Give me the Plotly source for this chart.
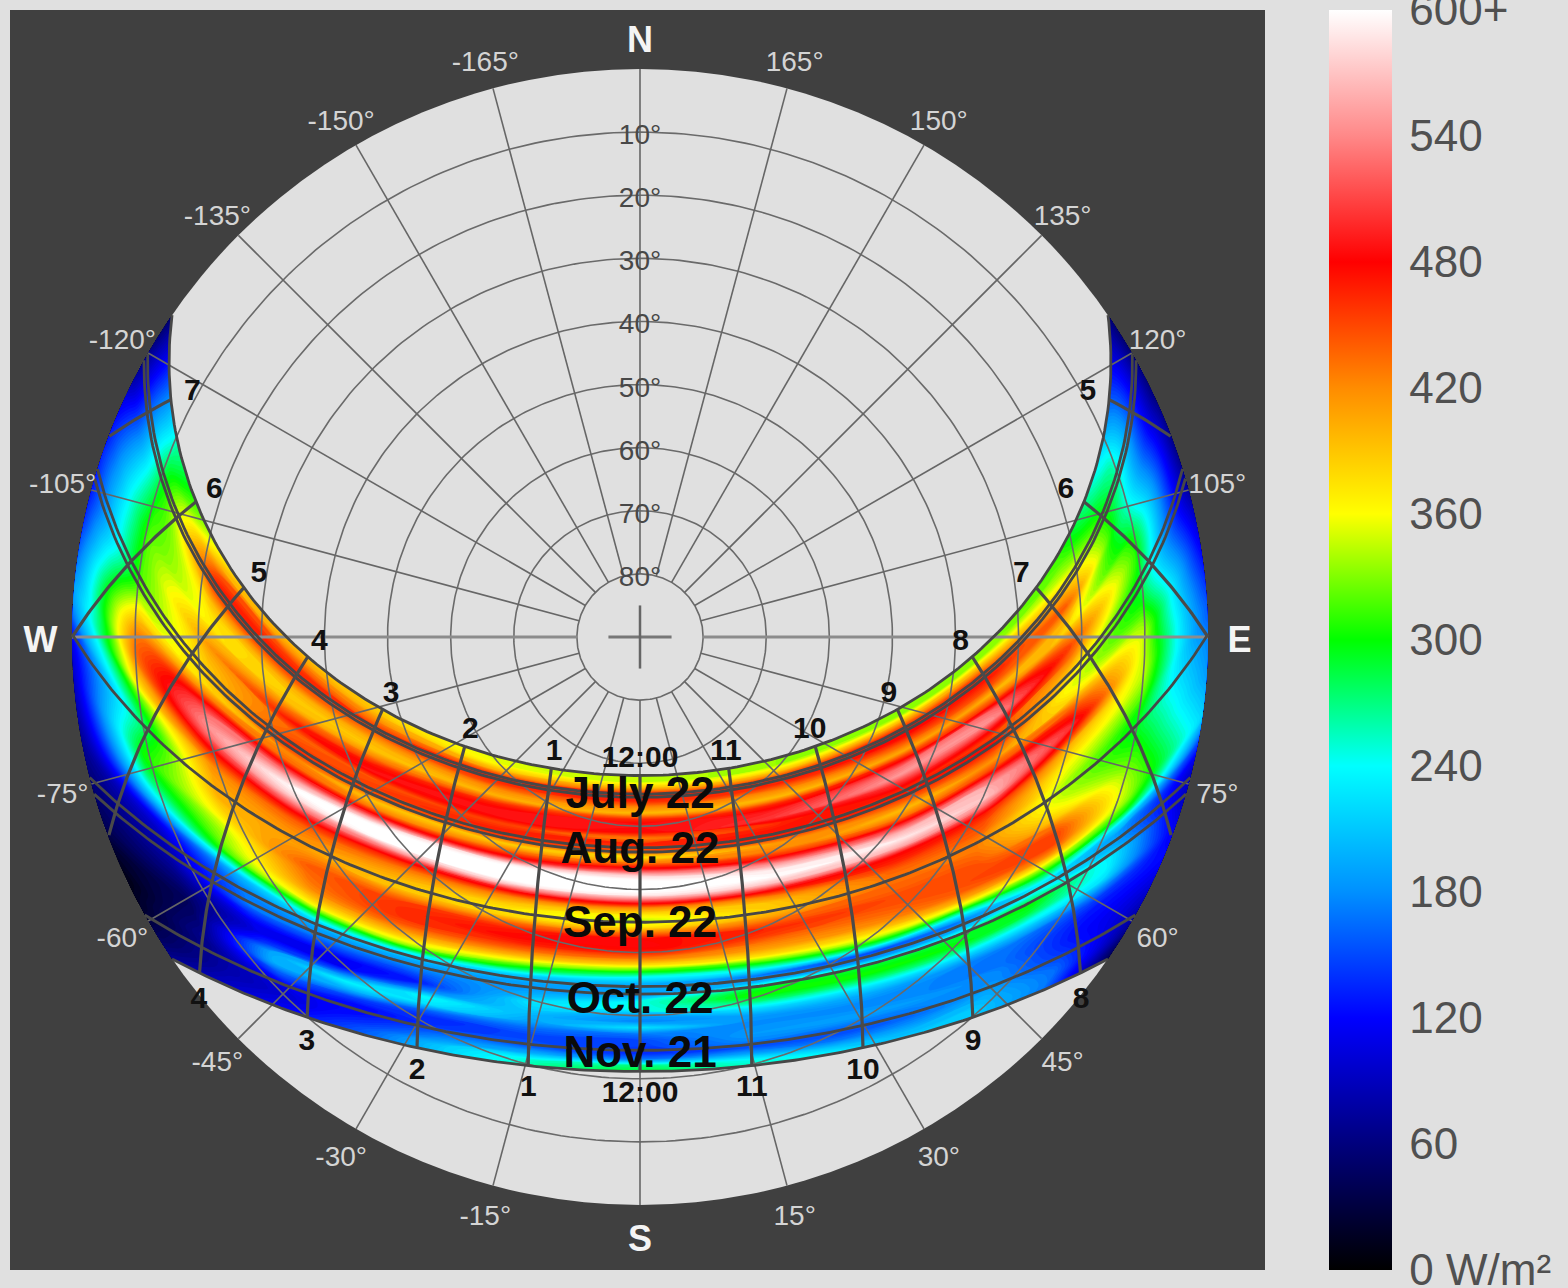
import numpy as np
import plotly.graph_objects as go

# ---------- data ----------
latitude = 45.4
declination_rows = [23.45, 22.5, 21.5, 20.5, 19.5, 18.5, 17.5, 16.5, 15.5, 14.5, 13.5, 12.5, 11.5, 10.5, 9.5, 8.5,
                    7.5, 6.5, 5.5, 4.5, 3.5, 2.5, 1.5, 0.5, -0.5, -1.5, -2.5, -3.5, -4.5, -5.5, -6.5, -7.5, -8.5,
                    -9.5, -10.5, -11.5, -12.5, -13.5, -14.5, -15.5, -16.5, -17.5, -18.5, -19.5, -20.5, -21.5,
                    -22.5, -23.45]
day_fraction_cols = [-1, -0.85, -0.7, -0.55, -0.4, -0.2, 0, 0.2, 0.4, 0.55, 0.7, 0.85, 1]
irradiance = [
    [50, 260, 360, 390, 380, 350, 345, 335, 335, 330, 310, 215, 55],
    [55, 270, 395, 415, 395, 355, 345, 335, 335, 335, 320, 240, 55],
    [60, 285, 445, 455, 425, 395, 395, 385, 405, 395, 340, 260, 55],
    [65, 295, 470, 470, 460, 470, 470, 460, 470, 450, 370, 270, 55],
    [70, 300, 435, 440, 430, 460, 470, 465, 480, 470, 410, 265, 60],
    [80, 305, 395, 400, 400, 420, 425, 420, 440, 445, 440, 260, 60],
    [100, 310, 375, 385, 390, 400, 395, 395, 405, 400, 400, 265, 60],
    [115, 315, 370, 395, 425, 460, 465, 465, 470, 450, 375, 280, 65],
    [125, 320, 395, 435, 470, 490, 485, 495, 530, 525, 420, 300, 65],
    [130, 320, 415, 470, 490, 490, 480, 505, 550, 545, 450, 310, 65],
    [135, 320, 400, 435, 445, 450, 425, 460, 505, 490, 430, 310, 65],
    [135, 320, 390, 445, 455, 470, 465, 475, 470, 450, 395, 300, 68],
    [130, 320, 390, 465, 445, 455, 445, 465, 470, 480, 365, 290, 70],
    [130, 340, 380, 420, 390, 385, 375, 410, 435, 445, 355, 295, 75],
    [135, 370, 425, 435, 425, 435, 435, 425, 395, 415, 375, 310, 85],
    [140, 400, 490, 500, 500, 490, 500, 470, 430, 450, 430, 330, 95],
    [150, 425, 530, 560, 590, 590, 580, 540, 500, 520, 470, 345, 105],
    [160, 435, 545, 600, 620, 620, 610, 590, 560, 560, 500, 345, 115],
    [170, 430, 530, 580, 600, 620, 610, 600, 590, 570, 460, 345, 125],
    [180, 400, 490, 530, 530, 580, 590, 570, 560, 530, 400, 345, 135],
    [190, 370, 450, 475, 465, 490, 510, 490, 480, 470, 380, 335, 145],
    [185, 320, 420, 440, 430, 425, 425, 425, 465, 450, 360, 320, 155],
    [165, 290, 410, 425, 410, 390, 375, 390, 440, 440, 350, 300, 160],
    [130, 270, 405, 415, 395, 370, 345, 385, 430, 425, 340, 290, 170],
    [110, 275, 400, 410, 390, 380, 370, 405, 435, 425, 345, 290, 175],
    [100, 290, 385, 425, 425, 435, 430, 440, 440, 435, 360, 300, 180],
    [95, 300, 370, 440, 455, 470, 480, 465, 450, 445, 385, 310, 185],
    [90, 290, 350, 435, 460, 480, 485, 455, 445, 450, 430, 320, 195],
    [85, 270, 340, 430, 460, 465, 470, 430, 435, 450, 455, 330, 205],
    [80, 240, 335, 420, 445, 435, 430, 410, 420, 440, 455, 335, 215],
    [75, 200, 320, 395, 415, 395, 380, 375, 385, 405, 420, 330, 190],
    [70, 150, 260, 365, 380, 340, 310, 310, 345, 340, 350, 300, 150],
    [65, 110, 200, 300, 335, 280, 240, 240, 270, 240, 290, 220, 115],
    [60, 95, 180, 230, 240, 210, 200, 170, 150, 170, 230, 185, 95],
    [55, 85, 170, 190, 195, 190, 190, 200, 185, 200, 250, 195, 90],
    [50, 80, 170, 175, 175, 185, 195, 290, 290, 290, 300, 230, 90],
    [45, 70, 140, 145, 150, 200, 245, 305, 305, 300, 285, 235, 100],
    [40, 60, 115, 115, 130, 225, 245, 270, 270, 270, 245, 225, 110],
    [30, 50, 110, 110, 170, 215, 190, 225, 225, 220, 205, 180, 115],
    [20, 45, 140, 170, 240, 200, 175, 190, 195, 185, 170, 145, 120],
    [15, 50, 190, 235, 225, 190, 225, 180, 180, 175, 165, 130, 115],
    [10, 60, 200, 200, 160, 165, 170, 180, 180, 175, 165, 125, 105],
    [15, 70, 165, 145, 135, 150, 150, 185, 190, 185, 175, 125, 95],
    [20, 70, 135, 120, 140, 150, 145, 175, 170, 175, 180, 135, 85],
    [30, 75, 110, 125, 160, 160, 135, 150, 150, 165, 190, 150, 75],
    [40, 80, 105, 140, 185, 200, 170, 190, 170, 180, 200, 165, 65],
    [55, 90, 115, 160, 215, 255, 270, 245, 210, 200, 210, 170, 50],
    [70, 100, 130, 170, 220, 270, 290, 260, 240, 210, 215, 170, 40],
]
date_line_declinations = [23.45, 20.5, 20.0, 12.0, 11.3, 0.2, -10.0, -11.2, -20.1, -23.45]
date_labels = ["July 22", "Aug. 22", "Sep. 22", "Oct. 22", "Nov. 21"]
date_label_declinations = [20.2, 11.5, -0.3, -12.3, -20.85]
hour_angles = [-105, -90, -75, -60, -45, -30, -15, 0, 15, 30, 45, 60, 75, 90, 105]
upper_hour_labels = ["7", "6", "5", "4", "3", "2", "1", "12:00", "11", "10", "9", "8", "7", "6", "5"]
lower_hour_angles = [-60, -45, -30, -15, 0, 15, 30, 45, 60]
lower_hour_labels = ["4", "3", "2", "1", "12:00", "11", "10", "9", "8"]
azimuth_labels = [15, 30, 45, 60, 75, 105, 120, 135, 150, 165]
altitude_labels = [10, 20, 30, 40, 50, 60, 70, 80]
colorbar_values = [0, 60, 120, 180, 240, 300, 360, 420, 480, 540, 600]
colorbar_text = ["0 W/m²", "60", "120", "180", "240", "300", "360", "420", "480", "540", "600+"]
color_stops = ["#000000", "#00007d", "#0000ff", "#0090ff", "#00ffff", "#00ff00", "#ffff00", "#ff8c00", "#ff0000",
               "#ff8888", "#ffffff"]

# ---------- scale: 90 degrees of zenith distance span 568 pixels ----------
W, H = 1568, 1288
CX, CY, S = 640.0, 637.0, 568.0 / 90.0
xrange_ = [-CX / S, (W - CX) / S]
yrange_ = [(CY - H) / S, CY / S]


def px(xp, yp):
    return (xp - CX) / S, (CY - yp) / S


def sun_xy(decl, hour):
    """Hour angle positive towards the east (morning, right of the plot)."""
    d, h, p = np.radians(decl), np.radians(hour), np.radians(latitude)
    e = np.cos(d) * np.sin(h)
    n = np.sin(d) * np.cos(p) - np.cos(d) * np.sin(p) * np.cos(h)
    u = np.clip(np.sin(d) * np.sin(p) + np.cos(d) * np.cos(p) * np.cos(h), -1, 1)
    r = 90 - np.degrees(np.arcsin(u))
    g = np.maximum(np.hypot(e, n), 1e-9)
    return r * e / g, r * n / g, u


def half_day(decl):
    return np.degrees(np.arccos(-np.tan(np.radians(latitude)) * np.tan(np.radians(decl))))


def az_xy(az, r):
    a = np.radians(az)
    return r * np.sin(a), -r * np.cos(a)


decl_up = np.array(declination_rows[::-1], dtype=float)
z_up = np.array(irradiance[::-1], dtype=float)
frac = np.array(day_fraction_cols, dtype=float)
grid_x, grid_y = [], []
for d_ in decl_up:
    xx, yy, _ = sun_xy(d_, frac * half_day(d_))
    grid_x.append(xx)
    grid_y.append(yy)
grid_x, grid_y = np.array(grid_x), np.array(grid_y)

colorscale = [[i / (len(color_stops) - 1), c] for i, c in enumerate(color_stops)]
hidden_axis = dict(showgrid=False, minorgridcount=0, showticklabels="none", startline=False, endline=False,
                   showline=False, smoothing=1, tickmode="array", tickvals=[], title=dict(text=""))

fig = go.Figure()
fig.add_trace(go.Carpet(a=frac, b=decl_up, x=grid_x, y=grid_y, carpet="sun", aaxis=hidden_axis, baxis=hidden_axis))
fig.add_trace(go.Contourcarpet(
    a=frac, b=decl_up, z=z_up, carpet="sun", autocontour=False, zmin=0, zmax=600, colorscale=colorscale,
    contours=dict(start=0, end=600, size=5, coloring="fill", showlines=False),
    line=dict(width=0), showscale=False,
))
# the legend bar: a marker colour scale over the same 0-600 range
fig.add_trace(go.Scatter(
    x=[xrange_[0] - 50] * len(colorbar_values), y=[0] * len(colorbar_values), mode="markers", hoverinfo="skip",
    showlegend=False,
    marker=dict(color=colorbar_values, cmin=0, cmax=600, colorscale=colorscale, showscale=True,
                colorbar=dict(x=1329 / W, xanchor="left", y=(H - 1270) / H, yanchor="bottom", len=1260,
                              lenmode="pixels", thickness=63, thicknessmode="pixels", xpad=0, ypad=0, outlinewidth=0,
                              tickmode="array", tickvals=colorbar_values, ticktext=colorbar_text, ticks="outside",
                              ticklen=9, tickcolor="rgba(0,0,0,0)", ticklabeloverflow="allow",
                              tickfont=dict(family="Liberation Sans", size=44, color="#505050"))),
))


def add_path(xs, ys, color, width):
    fig.add_trace(go.Scatter(x=xs, y=ys, mode="lines", line=dict(color=color, width=width), hoverinfo="skip",
                             showlegend=False))


def add_text(xs, ys, text, size, color, bold=False, drop=0.0):
    ys = np.asarray(ys, dtype=float) - drop / S
    fig.add_trace(go.Scatter(x=xs, y=ys, mode="text", text=text, textposition="middle center",
                             textfont=dict(family="Liberation Sans", size=size, color=color,
                                           weight="bold" if bold else "normal"),
                             hoverinfo="skip", showlegend=False))


# altitude circles
ang = np.linspace(0, 360, 361)
for alt in altitude_labels:
    cx_, cy_ = az_xy(ang, 90 - alt)
    add_path(cx_, cy_, "#6a6a6a", 1.6)

# azimuth spokes
sx, sy = [], []
for az in range(0, 360, 15):
    if az in (90, 270):
        continue
    x0, y0 = az_xy(az, 10)
    x1, y1 = az_xy(az, 90)
    sx += [x0, x1, None]
    sy += [y0, y1, None]
add_path(sx, sy, "#666666", 1.6)
for az in (90, 270):
    x0, y0 = az_xy(az, 10)
    x1, y1 = az_xy(az, 90)
    add_path([x0, x1], [y0, y1], "#8c8c8c", 3)
# centre cross
add_path([-5, 5], [0, 0], "#777777", 3)
add_path([0, 0], [-5, 5], "#666666", 2.5)

# sun paths for dates
for d_ in date_line_declinations:
    h0 = half_day(d_)
    hs = np.linspace(-h0, h0, 241)
    lx, ly, _ = sun_xy(d_, hs)
    add_path(lx, ly, "#474747", 2.8)

# hour lines
for h_ in hour_angles:
    ds = np.linspace(-23.45, 23.45, 121)
    lx, ly, up = sun_xy(ds, h_)
    keep = up >= 0
    add_path(lx[keep], ly[keep], "#4a4a4a", 3.2)

# texts
xs, ys = az_xy(np.array(azimuth_labels, float), 94.7)
add_text(xs, ys, [f"{a}°" for a in azimuth_labels], 28, "#d4d4d4", drop=4)
xs, ys = az_xy(-np.array(azimuth_labels, float), 94.7)
add_text(xs, ys, [f"-{a}°" for a in azimuth_labels], 28, "#d4d4d4", drop=4)

xs, ys = az_xy(np.array([180, 0, 90, 270], float), 95.0)
add_text(xs, ys, ["N", "S", "E", "W"], 36, "#f4f4f4", bold=True, drop=5.5)

add_text([0] * len(altitude_labels), [90 - a for a in altitude_labels], [f"{a}°" for a in altitude_labels], 28,
         "#484848", drop=5)

xs, ys, _ = sun_xy(26.5, np.array(hour_angles, float))
add_text(xs, ys, upper_hour_labels, 30, "#111111", bold=True, drop=3)
xs, ys, _ = sun_xy(-26.6, np.array(lower_hour_angles, float))
add_text(xs, ys, lower_hour_labels, 30, "#111111", bold=True, drop=3)

xs, ys, _ = sun_xy(np.array(date_label_declinations, float), 0.0)
add_text(xs, ys, date_labels, 44, "#0a0a0a", bold=True, drop=1)

# frame and disc
x0, y0 = px(10, 1270)
x1, y1 = px(1265, 10)
fig.update_layout(
    width=W, height=H, margin=dict(l=0, r=0, t=0, b=0), paper_bgcolor="#e0e0e0", plot_bgcolor="#e0e0e0",
    showlegend=False,
    xaxis=dict(range=xrange_, visible=False, fixedrange=True),
    yaxis=dict(range=yrange_, visible=False, fixedrange=True),
    shapes=[
        dict(type="rect", xref="x", yref="y", x0=x0, y0=y0, x1=x1, y1=y1, fillcolor="#404040", line_width=0,
             layer="below"),
        dict(type="circle", xref="x", yref="y", x0=-90, y0=-90, x1=90, y1=90, fillcolor="#e0e0e0", line_width=0,
             layer="below"),
    ],
)
fig.write_html("out.html", config=dict(displayModeBar=False),
               post_script="document.body.style.margin='0';document.body.style.overflow='hidden';")
